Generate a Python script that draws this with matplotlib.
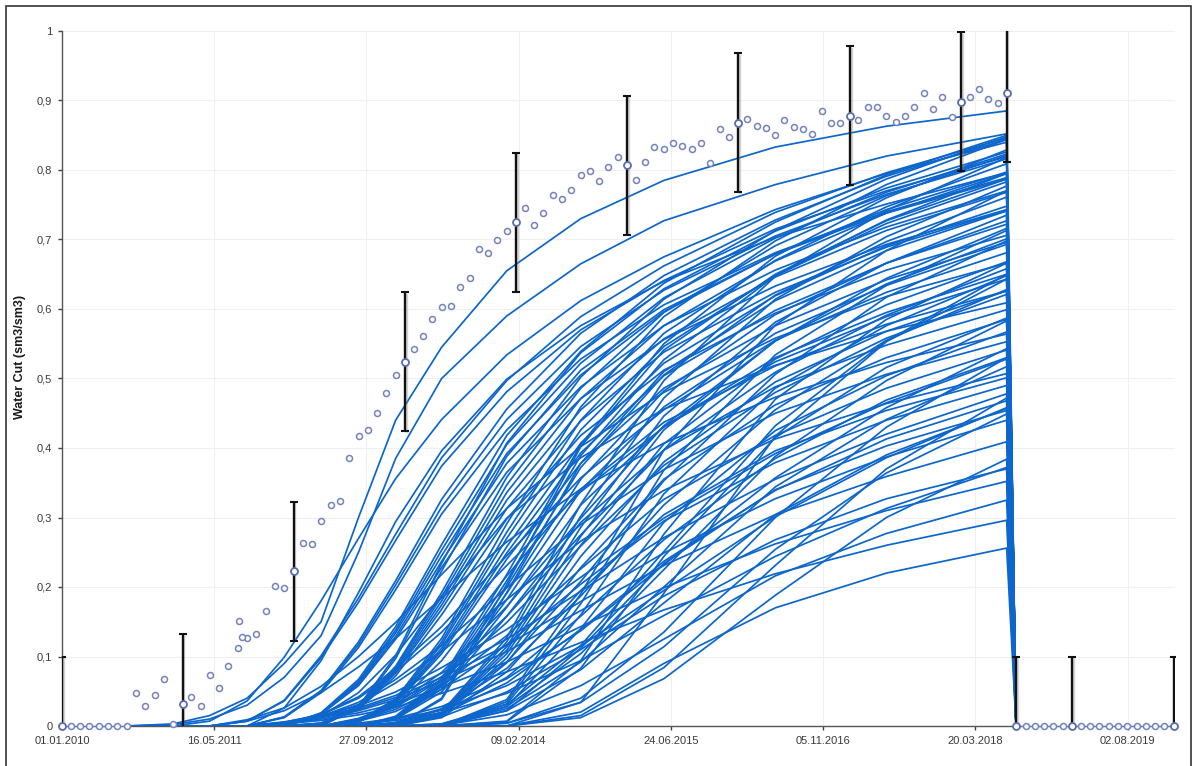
import pandas as pd
import matplotlib
matplotlib.use("Agg")
from matplotlib import pyplot as plt
import matplotlib.ticker as mtick
import matplotlib.patheffects as pe
from matplotlib.patches import Rectangle

plt.rcParams['font.family'] = ['Liberation Sans', 'DejaVu Sans']

# observed water cut, monthly from 01.2010 to 01.2020
obs_start = "2010-01-01"
obs_vals = [
    0, 0, 0, 0, 0, 0, 0, 0, 0.047, 0.029, 0.045, 0.068,                       # 2010
    0.003, 0.032, 0.042, 0.029, 0.074, 0.055, 0.086, 0.112, 0.126, 0.132, 0.165, 0.201,  # 2011
    0.199, 0.223, 0.264, 0.262, 0.295, 0.318, 0.324, 0.386, 0.417, 0.426, 0.450, 0.479,  # 2012
    0.505, 0.524, 0.542, 0.561, 0.586, 0.603, 0.604, 0.632, 0.644, 0.686, 0.681, 0.699,  # 2013
    0.712, 0.725, 0.745, 0.721, 0.738, 0.764, 0.758, 0.771, 0.793, 0.799, 0.784, 0.804,  # 2014
    0.818, 0.807, 0.786, 0.812, 0.833, 0.830, 0.839, 0.834, 0.830, 0.839, 0.810, 0.859,  # 2015
    0.847, 0.868, 0.874, 0.863, 0.861, 0.851, 0.872, 0.862, 0.859, 0.852, 0.885, 0.867,  # 2016
    0.868, 0.878, 0.872, 0.890, 0.891, 0.878, 0.869, 0.878, 0.891, 0.911, 0.888, 0.905,  # 2017
    0.876, 0.898, 0.905, 0.917, 0.902, 0.896, 0.911, 0, 0, 0, 0, 0,                  # 2018
    0, 0, 0, 0, 0, 0, 0, 0, 0, 0, 0, 0,                                         # 2019
    0,                                                                          # 2020
]
# two extra samples in august 2011
extra_dates = ["2011-08-04", "2011-08-14"]
extra_vals = [0.151, 0.128]

# samples carrying an error bar (+/- 0.1)
eb_dates = ["2010-01-01", "2011-02-01", "2012-02-01", "2013-02-01", "2014-02-01",
            "2015-02-01", "2016-02-01", "2017-02-01", "2018-02-01", "2018-07-01",
            "2018-08-01", "2019-02-01", "2020-01-01"]
eb_err = 0.1

# simulated cases: values at these dates, then shut-in
sim_dates = ["2010-08-01", "2011-01-01", "2011-05-01", "2011-09-01", "2012-01-01",
             "2012-05-01", "2012-09-01", "2013-01-01", "2013-06-01", "2014-01-01",
             "2014-09-01", "2015-06-01", "2016-06-01", "2017-06-01", "2018-07-01"]
shut_date = "2018-08-01"
sim_cut = [
    [0, 0.003, 0.015, 0.04, 0.09, 0.15, 0.30, 0.44, 0.545, 0.655, 0.73, 0.785, 0.833, 0.863, 0.885],
    [0, 0.002, 0.01, 0.03, 0.07, 0.13, 0.25, 0.385, 0.50, 0.59, 0.665, 0.727, 0.779, 0.82, 0.852],
    [0, 0, 0.007, 0.036, 0.099, 0.18, 0.27, 0.356, 0.441, 0.534, 0.612, 0.675, 0.743, 0.795, 0.84],
    [0, 0, 0, 0.007, 0.037, 0.101, 0.184, 0.276, 0.386, 0.497, 0.589, 0.662, 0.739, 0.796, 0.846],
    [0, 0, 0, 0.007, 0.036, 0.098, 0.178, 0.267, 0.374, 0.481, 0.57, 0.641, 0.715, 0.77, 0.819],
    [0, 0, 0, 0, 0.013, 0.051, 0.121, 0.209, 0.326, 0.456, 0.565, 0.648, 0.728, 0.791, 0.844],
    [0, 0, 0, 0, 0.013, 0.05, 0.117, 0.203, 0.315, 0.441, 0.546, 0.627, 0.705, 0.765, 0.816],
    [0, 0, 0, 0, 0.012, 0.048, 0.113, 0.196, 0.305, 0.426, 0.528, 0.606, 0.681, 0.74, 0.789],
    [0, 0, 0, 0, 0, 0.019, 0.067, 0.143, 0.261, 0.418, 0.539, 0.637, 0.725, 0.793, 0.85],
    [0, 0, 0, 0, 0, 0.018, 0.064, 0.138, 0.253, 0.405, 0.522, 0.616, 0.702, 0.768, 0.823],
    [0, 0, 0, 0, 0, 0.018, 0.062, 0.134, 0.245, 0.392, 0.505, 0.596, 0.679, 0.743, 0.797],
    [0, 0, 0, 0, 0, 0.017, 0.06, 0.129, 0.237, 0.378, 0.488, 0.576, 0.656, 0.718, 0.77],
    [0, 0, 0, 0, 0, 0.017, 0.058, 0.125, 0.228, 0.365, 0.471, 0.556, 0.633, 0.693, 0.743],
    [0, 0, 0, 0, 0, 0.004, 0.029, 0.086, 0.192, 0.358, 0.502, 0.614, 0.713, 0.787, 0.848],
    [0, 0, 0, 0, 0, 0.004, 0.028, 0.084, 0.186, 0.347, 0.486, 0.595, 0.691, 0.763, 0.821],
    [0, 0, 0, 0, 0, 0.004, 0.027, 0.081, 0.18, 0.336, 0.471, 0.576, 0.669, 0.738, 0.795],
    [0, 0, 0, 0, 0, 0.003, 0.026, 0.078, 0.174, 0.325, 0.455, 0.557, 0.646, 0.713, 0.768],
    [0, 0, 0, 0, 0, 0.003, 0.025, 0.076, 0.168, 0.313, 0.439, 0.538, 0.624, 0.689, 0.742],
    [0, 0, 0, 0, 0, 0.003, 0.024, 0.072, 0.16, 0.298, 0.418, 0.512, 0.594, 0.656, 0.706],
    [0, 0, 0, 0, 0, 0, 0.008, 0.039, 0.126, 0.291, 0.459, 0.589, 0.698, 0.779, 0.844],
    [0, 0, 0, 0, 0, 0, 0.007, 0.037, 0.121, 0.279, 0.44, 0.565, 0.67, 0.747, 0.809],
    [0, 0, 0, 0, 0, 0, 0.007, 0.036, 0.117, 0.27, 0.426, 0.546, 0.648, 0.723, 0.783],
    [0, 0, 0, 0, 0, 0, 0.007, 0.034, 0.112, 0.258, 0.407, 0.522, 0.619, 0.691, 0.748],
    [0, 0, 0, 0, 0, 0, 0.007, 0.033, 0.108, 0.249, 0.393, 0.504, 0.598, 0.666, 0.722],
    [0, 0, 0, 0, 0, 0, 0.006, 0.032, 0.104, 0.24, 0.378, 0.486, 0.576, 0.642, 0.696],
    [0, 0, 0, 0, 0, 0, 0, 0.014, 0.068, 0.218, 0.405, 0.55, 0.676, 0.76, 0.829],
    [0, 0, 0, 0, 0, 0, 0, 0.013, 0.065, 0.209, 0.389, 0.527, 0.648, 0.728, 0.795],
    [0, 0, 0, 0, 0, 0, 0, 0.012, 0.062, 0.2, 0.372, 0.505, 0.62, 0.697, 0.761],
    [0, 0, 0, 0, 0, 0, 0, 0.012, 0.06, 0.191, 0.355, 0.482, 0.592, 0.666, 0.727],
    [0, 0, 0, 0, 0, 0, 0, 0.011, 0.057, 0.182, 0.339, 0.459, 0.565, 0.634, 0.693],
    [0, 0, 0, 0, 0, 0, 0, 0, 0.02, 0.127, 0.319, 0.497, 0.647, 0.742, 0.818],
    [0, 0, 0, 0, 0, 0, 0, 0, 0.019, 0.121, 0.302, 0.472, 0.614, 0.704, 0.777],
    [0, 0, 0, 0, 0, 0, 0, 0, 0.018, 0.114, 0.286, 0.446, 0.581, 0.666, 0.735],
    [0, 0, 0, 0, 0, 0, 0, 0, 0.017, 0.109, 0.273, 0.426, 0.554, 0.636, 0.701],
    [0, 0, 0, 0, 0, 0, 0, 0, 0.016, 0.104, 0.26, 0.406, 0.528, 0.606, 0.668],
    [0, 0, 0, 0, 0, 0, 0.028, 0.101, 0.234, 0.407, 0.537, 0.629, 0.712, 0.774, 0.826],
    [0, 0, 0, 0, 0, 0, 0.026, 0.097, 0.223, 0.388, 0.512, 0.599, 0.679, 0.738, 0.787],
    [0, 0, 0, 0, 0, 0, 0, 0, 0.04, 0.204, 0.402, 0.541, 0.65, 0.727, 0.787],
    [0, 0, 0, 0, 0, 0, 0, 0, 0.038, 0.192, 0.378, 0.51, 0.612, 0.684, 0.741],
    [0, 0, 0, 0, 0.026, 0.094, 0.192, 0.294, 0.396, 0.499, 0.576, 0.64, 0.703, 0.751, 0.796],
    [0, 0, 0, 0, 0, 0, 0, 0, 0, 0.038, 0.19, 0.397, 0.577, 0.684, 0.77],
    [0, 0, 0, 0, 0, 0, 0, 0, 0, 0.035, 0.176, 0.368, 0.534, 0.634, 0.713],
    [0, 0, 0, 0, 0.005, 0.017, 0.042, 0.083, 0.143, 0.245, 0.357, 0.455, 0.555, 0.624, 0.681],
    [0, 0, 0, 0, 0.004, 0.016, 0.04, 0.078, 0.135, 0.231, 0.337, 0.43, 0.524, 0.589, 0.643],
    [0, 0, 0, 0.009, 0.026, 0.057, 0.1, 0.149, 0.218, 0.313, 0.402, 0.48, 0.558, 0.618, 0.666],
    [0, 0, 0, 0, 0, 0, 0.01, 0.029, 0.071, 0.158, 0.275, 0.397, 0.509, 0.591, 0.658],
    [0, 0, 0, 0, 0, 0, 0.009, 0.027, 0.067, 0.149, 0.259, 0.375, 0.48, 0.558, 0.621],
    [0, 0, 0, 0, 0, 0, 0, 0.005, 0.023, 0.083, 0.187, 0.318, 0.455, 0.555, 0.628],
    [0, 0, 0, 0, 0, 0, 0.006, 0.029, 0.094, 0.216, 0.341, 0.437, 0.518, 0.578, 0.626],
    [0, 0, 0, 0, 0, 0, 0, 0.01, 0.049, 0.158, 0.293, 0.397, 0.488, 0.548, 0.599],
    [0, 0, 0, 0, 0, 0.014, 0.048, 0.102, 0.187, 0.299, 0.386, 0.456, 0.519, 0.568, 0.609],
    [0, 0, 0, 0, 0, 0, 0, 0, 0.014, 0.091, 0.228, 0.355, 0.462, 0.53, 0.585],
    [0, 0, 0, 0, 0, 0, 0, 0, 0.003, 0.028, 0.104, 0.225, 0.388, 0.497, 0.583],
    [0, 0, 0, 0, 0, 0, 0, 0, 0, 0.028, 0.14, 0.293, 0.425, 0.504, 0.567],
    [0, 0, 0, 0.007, 0.022, 0.048, 0.085, 0.126, 0.184, 0.265, 0.341, 0.407, 0.473, 0.523, 0.564],
    [0, 0, 0, 0, 0.004, 0.014, 0.034, 0.067, 0.116, 0.199, 0.29, 0.369, 0.45, 0.506, 0.553],
    [0, 0, 0, 0, 0, 0, 0.008, 0.024, 0.058, 0.13, 0.226, 0.326, 0.418, 0.486, 0.541],
    [0, 0, 0, 0, 0, 0, 0, 0.004, 0.019, 0.07, 0.158, 0.268, 0.385, 0.469, 0.53],
    [0, 0, 0, 0, 0.006, 0.015, 0.029, 0.049, 0.084, 0.139, 0.214, 0.299, 0.392, 0.465, 0.528],
    [0, 0, 0, 0, 0, 0, 0, 0, 0.002, 0.025, 0.092, 0.2, 0.344, 0.441, 0.517],
    [0, 0, 0, 0, 0.003, 0.013, 0.031, 0.062, 0.107, 0.182, 0.266, 0.339, 0.413, 0.464, 0.507],
    [0, 0, 0, 0, 0, 0, 0, 0, 0.012, 0.078, 0.195, 0.304, 0.396, 0.454, 0.501],
    [0, 0, 0, 0, 0, 0, 0.007, 0.021, 0.053, 0.117, 0.204, 0.295, 0.379, 0.44, 0.49],
    [0, 0, 0, 0, 0.005, 0.014, 0.026, 0.044, 0.076, 0.125, 0.194, 0.271, 0.355, 0.42, 0.478],
    [0, 0, 0, 0, 0, 0, 0, 0.003, 0.017, 0.062, 0.139, 0.237, 0.339, 0.413, 0.468],
    [0, 0, 0, 0, 0, 0, 0, 0, 0.002, 0.022, 0.081, 0.177, 0.304, 0.39, 0.457],
    [0, 0, 0, 0, 0.005, 0.013, 0.024, 0.041, 0.07, 0.116, 0.179, 0.249, 0.327, 0.387, 0.44],
    [0, 0, 0, 0, 0, 0, 0, 0, 0, 0.022, 0.112, 0.234, 0.34, 0.403, 0.454],
    [0, 0, 0, 0, 0.005, 0.012, 0.022, 0.038, 0.065, 0.107, 0.166, 0.231, 0.304, 0.359, 0.409],
    [0, 0, 0, 0, 0, 0, 0, 0.003, 0.013, 0.049, 0.11, 0.187, 0.268, 0.327, 0.37],
    [0, 0, 0, 0, 0.004, 0.01, 0.019, 0.032, 0.056, 0.092, 0.143, 0.199, 0.262, 0.31, 0.352],
    [0, 0, 0, 0, 0, 0, 0, 0, 0.001, 0.016, 0.058, 0.125, 0.216, 0.277, 0.325],
    [0, 0, 0, 0, 0.003, 0.008, 0.016, 0.027, 0.047, 0.078, 0.12, 0.167, 0.219, 0.26, 0.296],
    [0, 0, 0, 0, 0, 0, 0, 0, 0, 0, 0.02, 0.09, 0.17, 0.22, 0.256],
    [0, 0, 0, 0, 0, 0, 0, 0, 0, 0.007, 0.094, 0.276, 0.47, 0.585, 0.666],
    [0, 0, 0, 0, 0, 0, 0, 0, 0, 0.006, 0.083, 0.244, 0.415, 0.516, 0.587],
    [0, 0, 0, 0, 0, 0, 0, 0, 0, 0.004, 0.04, 0.135, 0.30, 0.43, 0.53],
    [0, 0, 0, 0, 0, 0, 0, 0, 0, 0.004, 0.034, 0.114, 0.254, 0.364, 0.449],
    [0, 0, 0, 0, 0, 0, 0, 0, 0, 0, 0.034, 0.191, 0.417, 0.553, 0.643],
    [0, 0, 0, 0, 0, 0, 0, 0, 0, 0, 0.015, 0.084, 0.231, 0.37, 0.472],
    [0, 0, 0, 0, 0, 0, 0, 0, 0, 0, 0.012, 0.068, 0.188, 0.30, 0.384],
    [0, 0, 0, 0, 0, 0, 0.004, 0.011, 0.028, 0.068, 0.137, 0.232, 0.357, 0.458, 0.543],
    [0, 0, 0, 0, 0, 0, 0.003, 0.01, 0.023, 0.058, 0.115, 0.195, 0.301, 0.386, 0.458],
    [0, 0, 0, 0, 0, 0, 0.003, 0.008, 0.019, 0.047, 0.094, 0.159, 0.244, 0.313, 0.372],
    [0, 0, 0, 0, 0, 0, 0, 0, 0, 0.032, 0.16, 0.334, 0.486, 0.576, 0.648],
    [0, 0, 0, 0, 0, 0, 0, 0, 0.003, 0.031, 0.116, 0.251, 0.432, 0.554, 0.65],
    [0, 0, 0, 0, 0, 0, 0, 0, 0.015, 0.098, 0.244, 0.38, 0.495, 0.568, 0.626],
    [0, 0, 0, 0, 0, 0, 0, 0.011, 0.053, 0.171, 0.318, 0.431, 0.53, 0.595, 0.65],
    [0, 0, 0, 0, 0, 0, 0.011, 0.031, 0.077, 0.172, 0.299, 0.432, 0.554, 0.644, 0.716],
    [0, 0, 0, 0, 0, 0, 0, 0.005, 0.025, 0.092, 0.208, 0.353, 0.506, 0.617, 0.698],
]

tick_labels = ["01.01.2010", "16.05.2011", "27.09.2012", "09.02.2014",
               "24.06.2015", "05.11.2016", "20.03.2018", "02.08.2019"]
y_ticks = [0, 0.1, 0.2, 0.3, 0.4, 0.5, 0.6, 0.7, 0.8, 0.9, 1]

sim_color = "#0c66cc"
obs_edge = "#7383bd"

obs_dates = pd.date_range(obs_start, periods=len(obs_vals), freq="MS")
obs = pd.Series(obs_vals, index=obs_dates)
sim_x = list(pd.to_datetime(sim_dates)) + [pd.Timestamp(shut_date)]

fig = plt.figure(figsize=(12, 7.66), dpi=100)
ax = fig.add_axes([62 / 1200, 40 / 766, 1113 / 1200, 695 / 766])

# simulation cases
for row in sim_cut:
    ax.plot(sim_x, list(row) + [0], color=sim_color, lw=1.25, solid_joinstyle="round", zorder=3)

# thin line joining the zero-rate periods
zero_a = obs[:"2010-08-01"]
zero_b = obs["2018-08-01":]
ax.plot(zero_a.index, zero_a.values, color="#4f7fd0", lw=0.8, zorder=4, clip_on=False)
ax.plot(zero_b.index, zero_b.values, color="#4f7fd0", lw=0.8, zorder=4, clip_on=False)

# error bars
eb_x = pd.to_datetime(eb_dates)
eb_y = obs.reindex(eb_x).values
shadow = [pe.SimpleLineShadow(offset=(1.2, -1.2), shadow_color="#888888", alpha=0.35), pe.Normal()]
eb = ax.errorbar(eb_x, eb_y, yerr=eb_err, fmt="none", ecolor="#111111", elinewidth=1.7,
                 capsize=3, capthick=1.5, zorder=5)
for col in eb[2]:
    col.set_path_effects(shadow)

# observed points
ax.plot(obs_dates, obs_vals, ls="none", marker="o", ms=4.3, mfc="white",
        mec=obs_edge, mew=1.1, zorder=6, clip_on=False)
ax.plot(pd.to_datetime(extra_dates), extra_vals, ls="none", marker="o", ms=4.3,
        mfc="white", mec=obs_edge, mew=1.1, zorder=6)
ax.plot(eb_x, eb_y, ls="none", marker="o", ms=5, mfc="white", mec="#5a6db0",
        mew=1.3, zorder=7, clip_on=False)

ax.set_xlim(pd.Timestamp("2010-01-01"), pd.Timestamp("2020-01-05"))
ax.set_ylim(0, 1)
tick_x = pd.to_datetime(tick_labels, format="%d.%m.%Y")
ax.set_xticks(tick_x)
ax.set_xticklabels(tick_labels)
ax.set_yticks(y_ticks)
ax.yaxis.set_major_formatter(mtick.FuncFormatter(lambda v, p: ("%g" % v).replace(".", ",")))
ax.tick_params(axis="both", labelsize=8, colors="#444444", length=3, width=1, pad=4)
for lab in ax.get_xticklabels() + ax.get_yticklabels():
    lab.set_color("#3a3a3a")
ax.grid(True, color="#efefef", lw=0.8, zorder=0)
ax.set_axisbelow(True)
for side in ["top", "right"]:
    ax.spines[side].set_visible(False)
for side in ["left", "bottom"]:
    ax.spines[side].set_color("#555555")
    ax.spines[side].set_linewidth(1.0)

fig.text(20 / 1200, 1 - 357 / 766, "Water Cut (sm3/sm3)", rotation=90, ha="center",
         va="center", fontsize=9, fontweight="bold", color="#1a1a1a")

# outer frame of the screenshot
fig.add_artist(Rectangle((6 / 1200, -0.01), 1185 / 1200, 1 - 6 / 766 + 0.01,
                         transform=fig.transFigure, fill=False, ec="#333333", lw=1.2))

plt.savefig("out.png", dpi=100)
